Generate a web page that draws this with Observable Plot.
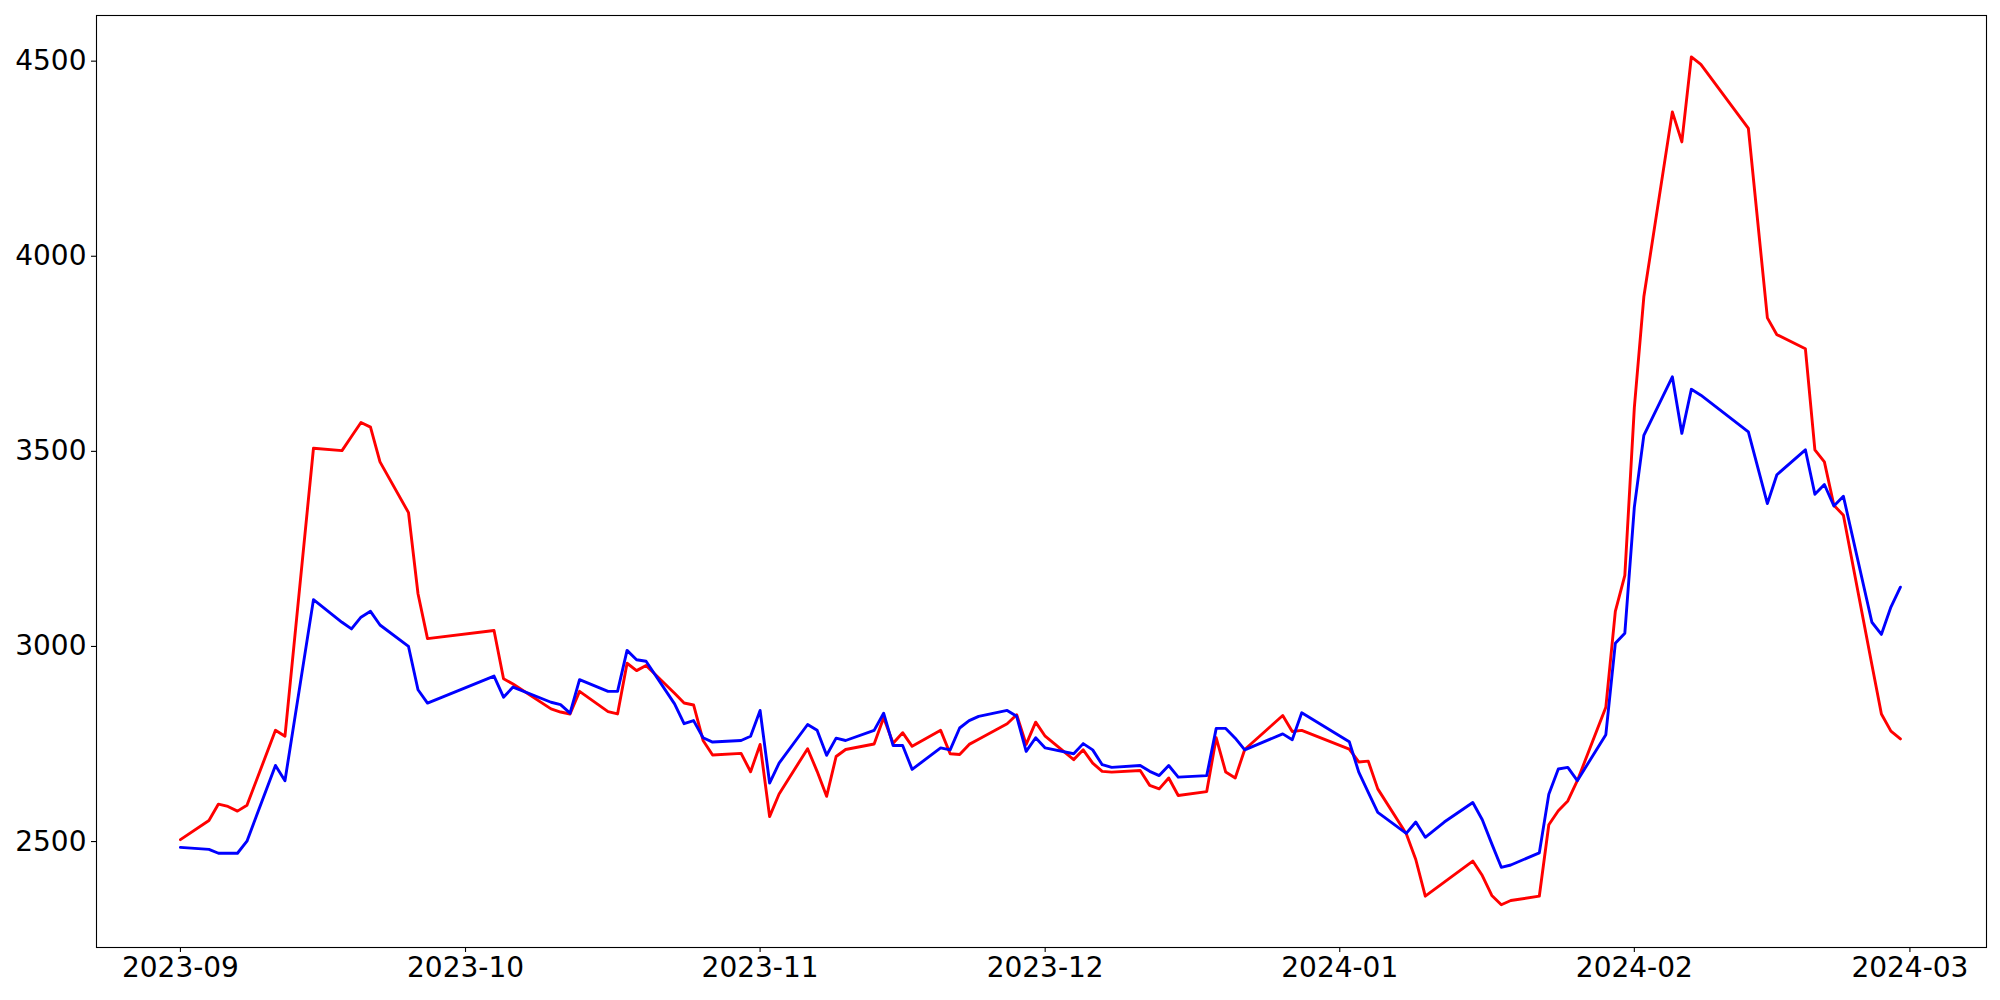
<!DOCTYPE html>
<html>
<head>
<meta charset="utf-8">
<script src="https://cdn.jsdelivr.net/npm/d3@7"></script>
<script src="https://cdn.jsdelivr.net/npm/@observablehq/plot@0.6"></script>
<style>
  html, body { margin: 0; padding: 0; background: white; overflow: hidden; }
  #chart svg { display: block; }
</style>
</head>
<body>
<div id="chart"></div>
<script>
const dates = [
  "2023-09-01","2023-09-04","2023-09-05","2023-09-06","2023-09-07","2023-09-08","2023-09-11","2023-09-12",
  "2023-09-15","2023-09-18","2023-09-19","2023-09-20","2023-09-21","2023-09-22","2023-09-25","2023-09-26",
  "2023-09-27","2023-10-04","2023-10-05","2023-10-06","2023-10-10","2023-10-11","2023-10-12","2023-10-13",
  "2023-10-16","2023-10-17","2023-10-18","2023-10-19","2023-10-20","2023-10-23","2023-10-24","2023-10-25",
  "2023-10-26","2023-10-27","2023-10-30","2023-10-31","2023-11-01","2023-11-02","2023-11-03","2023-11-06",
  "2023-11-07","2023-11-08","2023-11-09","2023-11-10","2023-11-13","2023-11-14","2023-11-15","2023-11-16",
  "2023-11-17","2023-11-20","2023-11-21","2023-11-22","2023-11-23","2023-11-24","2023-11-27","2023-11-28",
  "2023-11-29","2023-11-30","2023-12-01","2023-12-04","2023-12-05","2023-12-06","2023-12-07","2023-12-08",
  "2023-12-11","2023-12-12","2023-12-13","2023-12-14","2023-12-15","2023-12-18","2023-12-19","2023-12-20",
  "2023-12-21","2023-12-22","2023-12-26","2023-12-27","2023-12-28","2024-01-02","2024-01-03","2024-01-04",
  "2024-01-05","2024-01-08","2024-01-09","2024-01-10","2024-01-12","2024-01-15","2024-01-16","2024-01-17",
  "2024-01-18","2024-01-19","2024-01-22","2024-01-23","2024-01-24","2024-01-25","2024-01-26","2024-01-29",
  "2024-01-30","2024-01-31","2024-02-01","2024-02-02","2024-02-05","2024-02-06","2024-02-07","2024-02-08",
  "2024-02-13","2024-02-15","2024-02-16","2024-02-19","2024-02-20","2024-02-21","2024-02-22","2024-02-23",
  "2024-02-26","2024-02-27","2024-02-28","2024-02-29"
];

const redValues = [
  2505, 2554, 2596, 2590, 2578, 2593, 2785, 2770,
  3508, 3502, 3538, 3574, 3562, 3473, 3343, 3135,
  3020, 3041, 2917, 2904, 2840, 2832, 2827, 2885,
  2833, 2827, 2957, 2938, 2951, 2880, 2855, 2850,
  2759, 2722, 2726, 2679, 2749, 2564, 2622, 2738,
  2680, 2616, 2718, 2736, 2750, 2817, 2752, 2779,
  2744, 2785, 2725, 2723, 2749, 2762, 2802, 2825,
  2749, 2806, 2770, 2710, 2735, 2701, 2680, 2678,
  2682, 2644, 2635, 2663, 2618, 2628, 2766, 2678,
  2663, 2736, 2823, 2782, 2785, 2737, 2704, 2706,
  2635, 2520, 2454, 2360, 2396, 2450, 2413, 2362,
  2338, 2349, 2360, 2543, 2579, 2604, 2656, 2844,
  3090, 3182, 3612, 3896, 4370, 4293, 4511, 4492,
  4328, 3842, 3799, 3763, 3504, 3473, 3362, 3336,
  2953, 2827, 2783, 2763
];

const blueValues = [
  2485, 2480, 2470, 2470, 2470, 2501, 2695, 2656,
  3120, 3062, 3045, 3075, 3090, 3055, 3000, 2889,
  2855, 2924, 2870, 2896, 2857, 2851, 2829, 2915,
  2885, 2885, 2990, 2966, 2962, 2853, 2802, 2810,
  2766, 2755, 2759, 2770, 2836, 2650, 2701, 2800,
  2785, 2721, 2765, 2759, 2785, 2829, 2746, 2746,
  2685, 2740, 2735, 2791, 2810, 2821, 2836, 2821,
  2731, 2766, 2740, 2725, 2751, 2735, 2697, 2690,
  2695, 2680, 2669, 2695, 2665, 2669, 2790, 2790,
  2765, 2735, 2776, 2761, 2830, 2756, 2678, 2626,
  2575, 2521, 2550, 2511, 2550, 2600, 2556, 2494,
  2434, 2440, 2471, 2621, 2686, 2690, 2656, 2774,
  3008, 3034, 3357, 3541, 3691, 3546, 3659, 3644,
  3550, 3366, 3440, 3504, 3390, 3415, 3360, 3385,
  3062, 3031, 3101, 3152
];

const xTickDates = ["2023-09-01","2023-10-01","2023-11-01","2023-12-01","2024-01-01","2024-02-01","2024-03-01"];
const yTickValues = [2500, 3000, 3500, 4000, 4500];

const rows = dates.map((d, i) => ({date: new Date(d), red: redValues[i], blue: blueValues[i]}));
const fmt = d3.utcFormat("%Y-%m");

const chart = Plot.plot({
  width: 2000,
  height: 1000,
  marginLeft: 96,
  marginRight: 14,
  marginTop: 15,
  marginBottom: 53,
  style: {fontFamily: "DejaVu Sans", fontSize: "28px", background: "white", color: "black"},
  x: {type: "utc", domain: [new Date("2023-08-23T04:00:00Z"), new Date("2024-03-09T01:26:00Z")]},
  y: {domain: [2228.5, 4617]},
  marks: [
    Plot.lineY(rows, {x: "date", y: "red", stroke: "#ff0000", strokeWidth: 2.9}),
    Plot.lineY(rows, {x: "date", y: "blue", stroke: "#0000ff", strokeWidth: 2.9}),
    Plot.frame({stroke: "black", strokeWidth: 1.1}),
    Plot.axisX({ticks: xTickDates.map(d => new Date(d)), tickFormat: fmt, tickSize: 5, tickPadding: 5, label: null, strokeWidth: 1.1, fontSize: 28}),
    Plot.axisY({ticks: yTickValues, tickFormat: d => String(d), tickSize: 5, tickPadding: 5, label: null, strokeWidth: 1.1, fontSize: 28})
  ]
});
document.getElementById("chart").appendChild(chart);
</script>
</body>
</html>
